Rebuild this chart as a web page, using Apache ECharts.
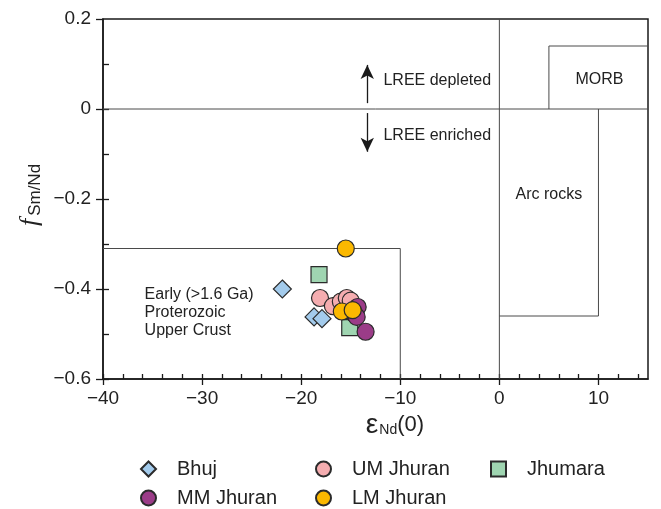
<!DOCTYPE html>
<html>
<head>
<meta charset="utf-8">
<script src="https://cdn.jsdelivr.net/npm/echarts@6/dist/echarts.min.js"></script>
<style>
  html, body { margin: 0; padding: 0; background: #fff; }
  #chart { width: 661px; height: 509px; }
</style>
</head>
<body>
<div id="chart"></div>
<script>
// Sample groups: [εNd(0), fSm/Nd]
const bhuj = [[-21.9, -0.40], [-18.7, -0.462], [-17.9, -0.466]];
const jhumara = [[-18.2, -0.368], [-15.1, -0.486]];
const umJhuran = [[-18.1, -0.42], [-16.8, -0.438], [-16.0, -0.428], [-15.4, -0.42], [-15.0, -0.426]];
const mmJhuran = [[-14.3, -0.44], [-14.6, -0.456], [-14.4, -0.462], [-13.5, -0.495]];
const lmJhuran = [[-15.5, -0.31], [-15.9, -0.45], [-14.8, -0.447]];

// Reference field outlines
const zeroVertical = [[0, -0.6], [0, 0.2]];
const zeroHorizontal = [[-40, 0], [15, 0]];
const arcRocks = [[0, -0.46], [10, -0.46], [10, 0]];
const morb = [[5, 0], [5, 0.14], [15, 0.14]];
const upperCrust = [[-40, -0.31], [-10, -0.31], [-10, -0.6]];

// Axis ticks
const xMajor = [-40, -30, -20, -10, 0, 10];
const xMinor = [-40, -38, -36, -34, -32, -30, -28, -26, -24, -22, -20, -18, -16, -14, -12, -10, -8, -6, -4, -2, 0, 2, 4, 6, 8, 10, 12, 14];
const yMajor = [-0.6, -0.4, -0.2, 0, 0.2];
const yMinor = [-0.6, -0.5, -0.4, -0.3, -0.2, -0.1, 0, 0.1];

const FONT = '"Liberation Sans", Arial, sans-serif';
const INK = '#1a1a1a';
const EDGE = '#2b2b2b';

const fmt = v => String(v).replace('-', '\u2212');

const chart = echarts.init(document.getElementById('chart'), null, { renderer: 'canvas' });

function outline(name, data) {
  return {
    name: name, type: 'line', data: data, symbol: 'none', silent: true,
    lineStyle: { color: '#4a4a4a', width: 1 }, z: 1, animation: false
  };
}

function pointSeries(name, data, symbol, size, color) {
  return {
    name: name, type: 'scatter', data: data, symbol: symbol, symbolSize: size,
    itemStyle: { color: color, borderColor: EDGE, borderWidth: 1.2, opacity: 1 },
    z: 5, animation: false
  };
}

const legendBase = {
  orient: 'horizontal', padding: 0, itemWidth: 15, itemHeight: 15, selectedMode: false,
  textStyle: { fontSize: 20, color: '#222', fontFamily: FONT, padding: [0, 0, 0, 16] }
};

const option = {
  backgroundColor: '#fff',
  animation: false,
  grid: { left: 103, right: 13, top: 19, bottom: 130, show: true, borderColor: INK, borderWidth: 1.5 },
  xAxis: [
    {
      type: 'value', min: -40, max: 15, position: 'bottom',
      axisLine: { show: true, onZero: false, lineStyle: { color: INK, width: 1.5 } },
      axisTick: { show: true, customValues: xMajor, inside: false, length: 6, lineStyle: { color: INK, width: 1.3 } },
      axisLabel: { customValues: xMajor, formatter: fmt, fontSize: 19, color: '#222', fontFamily: FONT, margin: 10 },
      splitLine: { show: false }
    },
    {
      type: 'value', min: -40, max: 15, position: 'bottom',
      axisLine: { show: false, onZero: false },
      axisTick: { show: true, customValues: xMinor, inside: true, length: 5, lineStyle: { color: INK, width: 1.3 } },
      axisLabel: { show: false },
      splitLine: { show: false }
    }
  ],
  yAxis: [
    {
      type: 'value', min: -0.6, max: 0.2, position: 'left',
      axisLine: { show: true, onZero: false, lineStyle: { color: INK, width: 1.5 } },
      axisTick: { show: true, customValues: yMajor, inside: false, length: 7, lineStyle: { color: INK, width: 1.3 } },
      axisLabel: { customValues: yMajor, formatter: fmt, fontSize: 19, color: '#222', fontFamily: FONT, margin: 12 },
      splitLine: { show: false }
    },
    {
      type: 'value', min: -0.6, max: 0.2, position: 'left',
      axisLine: { show: false, onZero: false },
      axisTick: { show: true, customValues: yMinor, inside: true, length: 6, lineStyle: { color: INK, width: 1.3 } },
      axisLabel: { show: false },
      splitLine: { show: false }
    }
  ],
  legend: [
    Object.assign({}, legendBase, { data: [{ name: 'Bhuj', icon: 'diamond' }], left: 140, top: 459 }),
    Object.assign({}, legendBase, { data: [{ name: 'UM Jhuran', icon: 'circle' }], left: 315, top: 459 }),
    Object.assign({}, legendBase, { data: [{ name: 'Jhumara', icon: 'rect' }], left: 490, top: 459 }),
    Object.assign({}, legendBase, { data: [{ name: 'MM Jhuran', icon: 'circle' }], left: 140, top: 488 }),
    Object.assign({}, legendBase, { data: [{ name: 'LM Jhuran', icon: 'circle' }], left: 315, top: 488 })
  ],
  series: [
    outline('zeroV', zeroVertical),
    outline('zeroH', zeroHorizontal),
    outline('arc', arcRocks),
    outline('morb', morb),
    outline('crust', upperCrust),
    {
      name: 'arrows', type: 'line', data: [], silent: true, animation: false,
      markLine: {
        silent: true, symbol: ['none', 'arrow'], symbolSize: [10, 14], label: { show: false },
        lineStyle: { color: INK, width: 1.3, type: 'solid' },
        data: [
          [{ coord: [-13.33, 0.013] }, { coord: [-13.33, 0.098] }],
          [{ coord: [-13.33, -0.009] }, { coord: [-13.33, -0.095] }]
        ]
      }
    },
    pointSeries('Bhuj', bhuj, 'diamond', 18, '#a3cbec'),
    pointSeries('Jhumara', jhumara, 'rect', 16, '#9fd5b1'),
    pointSeries('UM Jhuran', umJhuran, 'circle', 17, '#f5adb0'),
    pointSeries('MM Jhuran', mmJhuran, 'circle', 17, '#9b3c88'),
    pointSeries('LM Jhuran', lmJhuran, 'circle', 17, '#fbb800')
  ]
};

chart.setOption(option);

// Annotations placed in data coordinates
const notes = [
  { text: 'LREE depleted', at: [-11.7, 0.063], align: 'left' },
  { text: 'LREE enriched', at: [-11.7, -0.06], align: 'left' },
  { text: 'MORB', at: [10.1, 0.066], align: 'center' },
  { text: 'Arc rocks', at: [5, -0.19], align: 'center' },
  { text: 'Early (>1.6 Ga)\nProterozoic\nUpper Crust', at: [-35.8, -0.4527], align: 'left' }
];

const graphics = notes.map(n => {
  const p = chart.convertToPixel({ gridIndex: 0 }, n.at);
  return {
    type: 'text', x: p[0], y: p[1], silent: true, z: 10,
    style: {
      text: n.text, fill: '#222', font: '16px ' + FONT, lineHeight: 18,
      align: n.align, verticalAlign: 'middle'
    }
  };
});

// Axis titles
graphics.push({
  type: 'text', x: 395, y: 425, silent: true,
  style: {
    text: '{e|\u03b5}{s|Nd}{p|(0)}', align: 'center', verticalAlign: 'middle',
    rich: {
      e: { fontSize: 28, fontFamily: FONT, fill: '#222' },
      s: { fontSize: 14, fontFamily: FONT, fill: '#222', padding: [10, 0, 0, 1] },
      p: { fontSize: 22, fontFamily: FONT, fill: '#222' }
    }
  }
});
graphics.push({
  type: 'text', x: 30, y: 195, rotation: Math.PI / 2, silent: true,
  style: {
    text: '{f|f}{s|Sm/Nd}', align: 'center', verticalAlign: 'middle',
    rich: {
      f: { fontSize: 26, fontStyle: 'italic', fontFamily: '"Liberation Serif", "DejaVu Serif", serif', fill: '#222' },
      s: { fontSize: 17, fontFamily: FONT, fill: '#222', padding: [10, 0, 0, 3] }
    }
  }
});

chart.setOption({ graphic: graphics });
</script>
</body>
</html>
